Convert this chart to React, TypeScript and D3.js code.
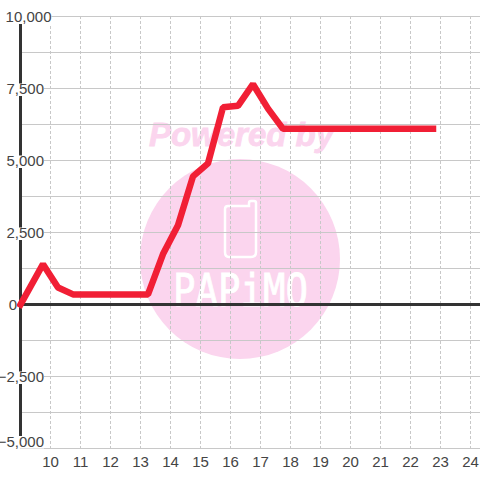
import React from "react";
import * as d3 from "d3";

const hours = [9, 9.75, 10.25, 10.75, 13.25, 13.75, 14.25, 14.75, 15.25, 15.75, 16.25, 16.75, 17.25, 17.75, 22.75];
const values = [0, 1400, 590, 350, 350, 1750, 2750, 4450, 4900, 6850, 6900, 7650, 6800, 6100, 6100];
const xTicks = [10, 11, 12, 13, 14, 15, 16, 17, 18, 19, 20, 21, 22, 23, 24];
const yGrid = [10000, 8750, 7500, 6250, 5000, 3750, 2500, 1250, -1250, -2500, -3750, -5000];
const yLabels = [10000, 7500, 5000, 2500, 0, -2500, -5000];
const watermarkTop = "Powered by";
const watermarkBrand = "PAPiMO";

const x = d3.scaleLinear().domain([10, 24]).range([50.5, 470.5]);
const y = d3.scaleLinear().domain([-5000, 10000]).range([448.5, 16.5]);
const font = "'Liberation Sans', Arial, sans-serif";
const labelRight = (v: number) => (v === 0 ? 17 : v === 10000 ? 51.5 : 44);

export default function App() {
  const line = d3.line<number>().x((_, i) => x(hours[i])).y((d) => y(d));
  const fmt = d3.format(",");
  return (
    <svg width={480} height={480} style={{ position: "fixed", left: 0, top: 0, background: "#fff" }}>
      <circle cx={240} cy={259} r={100} fill="#fbd5ee" />
      <text x={241.5} y={146} textAnchor="middle" fontFamily={font} fontWeight="bold" fontStyle="italic" fontSize={33} fill="#fbd5ee" stroke="#fbd5ee" strokeWidth={0.8}>{watermarkTop}</text>
      <path d="M228 206 H249 V203 Q249 201 251 201 H254 Q256 201 256 203 V252 Q256 257 251 257 H229 Q225 257 225 252 V209 Q225 206 228 206 Z" fill="none" stroke="#fff" strokeWidth={2.5} />
      <text x={173} y={306} fontFamily="'DejaVu Sans Mono'" fontSize={44} textLength={135} lengthAdjust="spacingAndGlyphs" fill="#fff" stroke="#fff" strokeWidth={0.8}>{watermarkBrand}</text>
      {xTicks.map((t) => (
        <line key={t} x1={x(t)} x2={x(t)} y1={16} y2={448} stroke="#c8c8c8" strokeWidth={1} strokeDasharray="3 2" />
      ))}
      {yGrid.map((v) => (
        <line key={v} x1={20} x2={480} y1={y(v)} y2={y(v)} stroke="#c8c8c8" strokeWidth={1} />
      ))}
      <line x1={20.5} x2={20.5} y1={24} y2={436} stroke="#333" strokeWidth={3} />
      <line x1={20} x2={480} y1={y(0)} y2={y(0)} stroke="#333" strokeWidth={3} />
      <path d={line(values) ?? ""} fill="none" stroke="#f11f35" strokeWidth={6.5} strokeLinejoin="bevel" strokeLinecap="square" />
      {yLabels.map((v) => {
        const w = fmt(v).length * 7.6;
        const cy = v === -5000 ? 441 : y(v);
        const right = labelRight(v);
        return (
          <g key={v}>
            <rect x={right - w} y={cy - 5} width={w} height={12.5} fill="#fff" />
            <text x={right} y={cy + 5.5} textAnchor="end" fontFamily={font} fontSize={15} fill="#444">{fmt(v)}</text>
          </g>
        );
      })}
      {xTicks.map((t) => (
        <text key={t} x={x(t)} y={466.5} textAnchor="middle" fontFamily={font} fontSize={15} fill="#444">{t}</text>
      ))}
    </svg>
  );
}
